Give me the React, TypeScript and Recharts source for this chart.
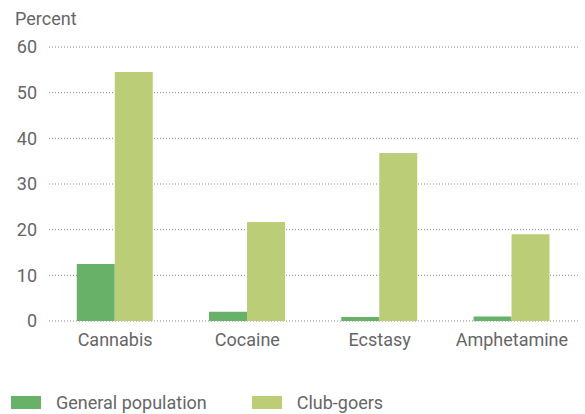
import React from "react";
import { BarChart, Bar, XAxis, YAxis, CartesianGrid, Label } from "recharts";

const categories = ["Cannabis", "Cocaine", "Ecstasy", "Amphetamine"];
const generalPopulation = [12.5, 2.0, 0.9, 1.0];
const clubGoers = [54.5, 21.7, 36.8, 19.0];
const yTicks = [0, 10, 20, 30, 40, 50, 60];

const GREEN = "#67b268";
const LIGHT = "#bccd78";
const TEXT = "#666666";
const FONT = "Roboto, 'Liberation Sans', sans-serif";
const FS = 18;

const data = categories.map((name, i) => ({
  name,
  general: generalPopulation[i],
  club: clubGoers[i],
}));

const legendItems = [
  { label: "General population", color: GREEN },
  { label: "Club-goers", color: LIGHT },
];

export default function App() {
  return (
    <div style={{ position: "absolute", left: 0, top: 0, width: 585, height: 414, background: "#fff" }}>
      <BarChart
        width={585}
        height={414}
        data={data}
        margin={{ top: 47, right: 7, left: 0, bottom: 63 }}
        barGap={0}
        barCategoryGap="21%"
      >
        <CartesianGrid vertical={false} stroke="#8a8a8a" strokeDasharray="1 2" />
        <XAxis
          dataKey="name"
          axisLine={false}
          tickLine={false}
          tickSize={0}
          tickMargin={12}
          height={30}
          tick={{ fill: TEXT, fontSize: FS, fontFamily: FONT }}
        />
        <YAxis
          domain={[0, 60]}
          ticks={yTicks}
          axisLine={false}
          tickLine={false}
          tickSize={0}
          tickMargin={12}
          width={49}
          tick={{ fill: TEXT, fontSize: FS, fontFamily: FONT }}
        >
          <Label
            content={() => (
              <text x={15} y={25} fill={TEXT} fontSize={FS} fontFamily={FONT}>
                Percent
              </text>
            )}
          />
        </YAxis>
        <Bar dataKey="general" name="General population" fill={GREEN} isAnimationActive={false} />
        <Bar dataKey="club" name="Club-goers" fill={LIGHT} isAnimationActive={false} />
      </BarChart>
      {/* legend sits under the chart, kept out of recharts so it doesn't eat plot height */}
      <div
        style={{
          position: "absolute",
          left: 11,
          top: 392,
          display: "flex",
          alignItems: "center",
          fontFamily: FONT,
          fontSize: FS,
          color: TEXT,
        }}
      >
        {legendItems.map((it) => (
          <div key={it.label} style={{ display: "flex", alignItems: "center", marginRight: 45 }}>
            <span style={{ width: 30, height: 13, background: it.color, display: "inline-block", marginRight: 15 }} />
            <span>{it.label}</span>
          </div>
        ))}
      </div>
    </div>
  );
}
